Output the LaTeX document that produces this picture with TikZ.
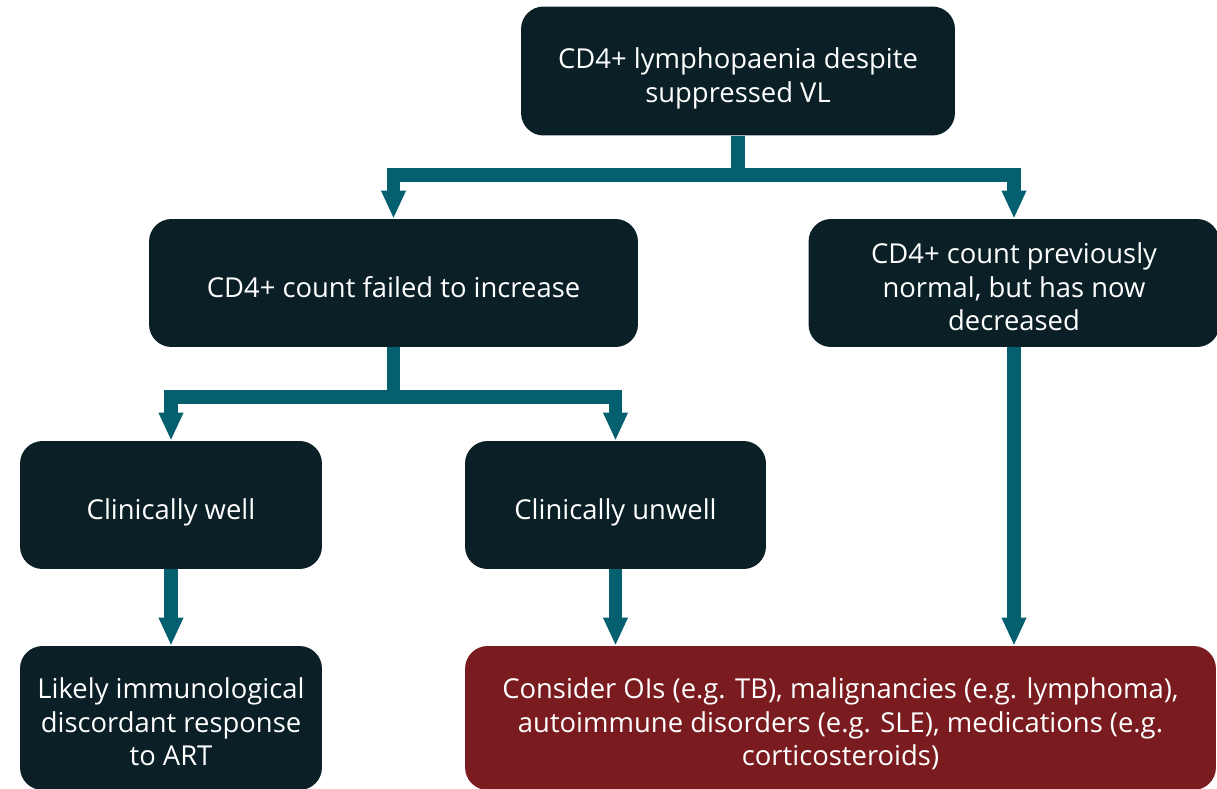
\documentclass[tikz,border=0pt]{standalone}
\usepackage{fontspec}
\setmainfont{Open Sans}
\usepackage{xcolor}
\usetikzlibrary{arrows.meta, positioning}
\definecolor{boxdark}{HTML}{0A1F26}
\definecolor{linkteal}{HTML}{04606F}
\definecolor{alertred}{HTML}{7A1C1F}
\newcommand{\boxtop}{\rule{0pt}{21pt}}
\newcommand{\boxbot}{\rule[-4.6pt]{0pt}{4.6pt}}
\begin{document}
\begin{tikzpicture}[
  x=0.02cm, y=-0.02cm,
  box/.style={draw=none, rectangle, rounded corners=0.45cm, align=center, fill=boxdark, text=white, minimum height=2.56cm, font=\fontsize{15.6}{19.1}\selectfont},
  redbox/.style={box, fill=alertred, minimum height=2.88cm},
  arr/.style={-{Triangle[width=13pt, length=16pt]}, line width=7.9pt, linkteal}
]
\useasboundingbox (0,0) rectangle (1217,788);
\node[box, minimum width=8.68cm, minimum height=2.58cm] (top) at (738,71) {\boxtop CD4+ lymphopaenia despite\\ suppressed VL\boxbot};
\node[box, minimum width=9.78cm] (failed) at (393.5,283) {\boxtop CD4+ count failed to increase\boxbot};
\node[box, minimum width=8.22cm] (prev) at (1014,283) {\boxtop CD4+ count previously\\ normal, but has now\\ decreased\boxbot};
\node[box, minimum width=6.04cm] (well) at (171,505) {\boxtop Clinically well\boxbot};
\node[box, minimum width=6.02cm] (unwell) at (615.5,505) {\boxtop Clinically unwell\boxbot};
\node[box, minimum width=6.04cm, minimum height=2.88cm] (likely) at (171,718) {\boxtop Likely immunological\\ discordant response\\ to ART\boxbot};
\node[redbox, minimum width=15.02cm] (consider) at (840.5,718) {\boxtop Consider OIs (e.g. TB), malignancies (e.g. lymphoma),\\ autoimmune disorders (e.g. SLE), medications (e.g.\\ corticosteroids)\boxbot};

\draw[arr] (top.south) -- ++(0,39.5) -| (failed.north);
\draw[arr] (top.south) -- ++(0,39.5) -| (prev.north);
\draw[arr] (failed.south) -- ++(0,50) -| (well.north);
\draw[arr] (failed.south) -- ++(0,50) -| (unwell.north);
\draw[arr] (well) -- (likely);
\draw[arr] (unwell) -- (unwell |- consider.north);
\draw[arr] (prev) -- (prev |- consider.north);
\end{tikzpicture}
\end{document}
